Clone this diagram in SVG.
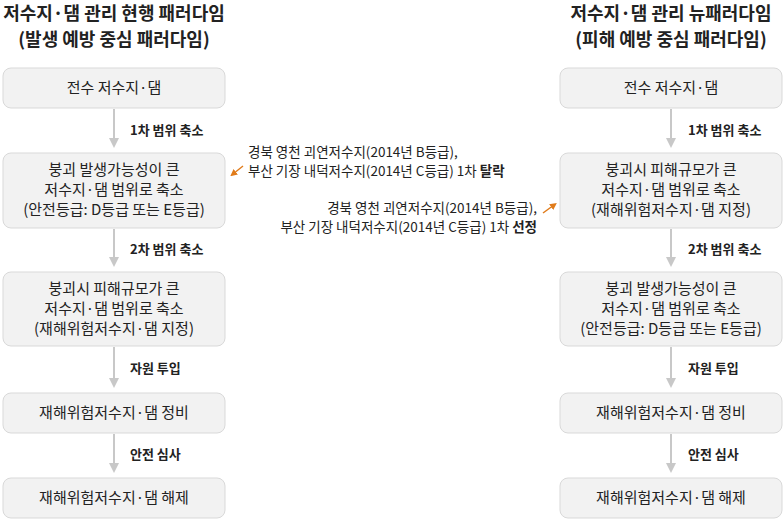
<svg xmlns="http://www.w3.org/2000/svg" width="784" height="521" viewBox="0 0 784 521">
<style>
text{font-family:"Noto Sans CJK KR","Noto Sans",sans-serif;fill:#222}
.t{font-size:18px;font-weight:bold;text-anchor:middle}
.b{fill:#f2f2f2;stroke:#d9d9d9;stroke-width:1}
.n{font-size:15px;text-anchor:middle}
.l{font-size:13px;font-weight:bold}
.a{stroke:#c8c8c8;stroke-width:2;fill:none}
.o{stroke:#e07b1a;stroke-width:1.5;fill:none}
.c{font-size:13.5px}
</style>
<defs>
<marker id="ah" markerWidth="10" markerHeight="10" refX="5" refY="5" orient="auto" markerUnits="userSpaceOnUse"><path d="M0,0L10,5L0,10Z" fill="#c8c8c8"/></marker>
<marker id="oh" markerWidth="7" markerHeight="7" refX="3.5" refY="3.5" orient="auto" markerUnits="userSpaceOnUse"><path d="M0,0L7,3.5L0,7Z" fill="#e07b1a"/></marker>
</defs>
<text class="t" x="114" y="20">저수지·댐 관리 현행 패러다임</text>
<text class="t" x="114" y="46">(발생 예방 중심 패러다임)</text>
<text class="t" x="671" y="20">저수지·댐 관리 뉴패러다임</text>
<text class="t" x="671" y="46">(피해 예방 중심 패러다임)</text>
<g id="connectors">
<path class="a" d="M114 109V143" marker-end="url(#ah)"/>
<path class="a" d="M114 229V262" marker-end="url(#ah)"/>
<path class="a" d="M114 347V383" marker-end="url(#ah)"/>
<path class="a" d="M114 434V468" marker-end="url(#ah)"/>
<path class="a" d="M671 109V143" marker-end="url(#ah)"/>
<path class="a" d="M671 229V262" marker-end="url(#ah)"/>
<path class="a" d="M671 347V383" marker-end="url(#ah)"/>
<path class="a" d="M671 434V468" marker-end="url(#ah)"/>
<text class="l" x="130" y="135">1차 범위 축소</text>
<text class="l" x="130" y="254">2차 범위 축소</text>
<text class="l" x="130" y="373">자원 투입</text>
<text class="l" x="130" y="459">안전 심사</text>
<text class="l" x="688" y="135">1차 범위 축소</text>
<text class="l" x="688" y="254">2차 범위 축소</text>
<text class="l" x="688" y="373">자원 투입</text>
<text class="l" x="688" y="459">안전 심사</text>
<path class="o" d="M243 166L233 174" marker-end="url(#oh)"/>
<path class="o" d="M543 213L554 205" marker-end="url(#oh)"/>
<text class="c" x="248" y="157">경북 영천 괴연저수지(2014년 B등급),</text>
<text class="c" x="248" y="176">부산 기장 내덕저수지(2014년 C등급) 1차 <tspan font-weight="bold">탈락</tspan></text>
<text class="c" x="537" y="213" text-anchor="end">경북 영천 괴연저수지(2014년 B등급),</text>
<text class="c" x="537" y="232" text-anchor="end">부산 기장 내덕저수지(2014년 C등급) 1차 <tspan font-weight="bold">선정</tspan></text>
</g>
<g id="L1"><rect class="b" x="3" y="68" width="222" height="40" rx="8"/><text class="n" x="114" y="93">전수 저수지·댐</text></g>
<g id="L2"><rect class="b" x="3" y="153" width="222" height="75" rx="8"/><text class="n" x="114" y="175">붕괴 발생가능성이 큰</text><text class="n" x="114" y="195">저수지·댐 범위로 축소</text><text class="n" x="114" y="215">(안전등급: D등급 또는 E등급)</text></g>
<g id="L3"><rect class="b" x="3" y="272" width="222" height="74" rx="8"/><text class="n" x="114" y="294">붕괴시 피해규모가 큰</text><text class="n" x="114" y="314">저수지·댐 범위로 축소</text><text class="n" x="114" y="334">(재해위험저수지·댐 지정)</text></g>
<g id="L4"><rect class="b" x="3" y="393" width="222" height="40" rx="8"/><text class="n" x="114" y="418">재해위험저수지·댐 정비</text></g>
<g id="L5"><rect class="b" x="3" y="478" width="222" height="40" rx="8"/><text class="n" x="114" y="503">재해위험저수지·댐 해제</text></g>
<g id="R1"><rect class="b" x="560" y="68" width="222" height="40" rx="8"/><text class="n" x="671" y="93">전수 저수지·댐</text></g>
<g id="R2"><rect class="b" x="560" y="153" width="222" height="75" rx="8"/><text class="n" x="671" y="175">붕괴시 피해규모가 큰</text><text class="n" x="671" y="195">저수지·댐 범위로 축소</text><text class="n" x="671" y="215">(재해위험저수지·댐 지정)</text></g>
<g id="R3"><rect class="b" x="560" y="272" width="222" height="74" rx="8"/><text class="n" x="671" y="294">붕괴 발생가능성이 큰</text><text class="n" x="671" y="314">저수지·댐 범위로 축소</text><text class="n" x="671" y="334">(안전등급: D등급 또는 E등급)</text></g>
<g id="R4"><rect class="b" x="560" y="393" width="222" height="40" rx="8"/><text class="n" x="671" y="418">재해위험저수지·댐 정비</text></g>
<g id="R5"><rect class="b" x="560" y="478" width="222" height="40" rx="8"/><text class="n" x="671" y="503">재해위험저수지·댐 해제</text></g>
</svg>
